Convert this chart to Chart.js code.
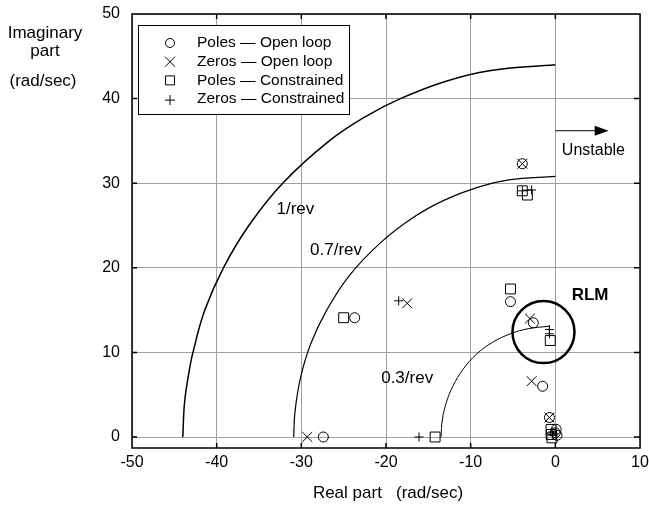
<!DOCTYPE html>
<html>
<head>
<meta charset="utf-8">
<script src="https://cdn.jsdelivr.net/npm/chart.js@4.4.1/dist/chart.umd.min.js"></script>
<style>
  html, body { margin: 0; padding: 0; background: #fff; }
</style>
</head>
<body>
<canvas id="grafico" width="649" height="509"></canvas>
<script>
// rangos de los ejes
const ejeX = [-50, 10];
const ejeY = [-1.3, 50];
const pasoTicks = 10;

// polos y ceros
const polosAbiertoX = [-27.4, -23.7, -5.3, -2.6, -1.5, -0.7, -3.9, 0.1, 0.2, 0.0];
const polosAbiertoY = [0, 14.1, 16.0, 13.5, 6.0, 2.3, 32.3, 0.9, 0.2, 0.5];
const cerosAbiertoX = [-29.3, -17.5, -3.9, -3.0, -2.8, -0.7];
const cerosAbiertoY = [0, 15.8, 32.3, 14.0, 6.6, 2.3];
const polosRestrX = [-14.2, -25.0, -5.3, -0.6, -3.9, -3.3, -0.5, -0.5, -0.4];
const polosRestrY = [0, 14.1, 17.5, 11.4, 29.1, 28.6, 0.9, 0.3, -0.1];
const cerosRestrX = [-16.1, -18.5, -2.8, -3.9, -0.7, -0.7, -0.3, -0.3];
const cerosRestrY = [0, 16.1, 29.2, 29.1, 12.7, 12.2, 0.6, 0.2];

// curvas de frecuencia constante
const curva1X = [-44, -43.8, -43.3, -42.8, -41.4, -39.2, -36.2, -32.2, -26.7, -22.2, -18.3, -13.1, -7.8, 0];
const curva1Y = [0, 4, 7.5, 10, 15, 20, 25, 30, 35, 38, 40, 42, 43.3, 44];
const curva07X = [-30.9, -30.75, -30.1, -28.9, -27.0, -24.4, -20.6, -16.7, -13.1, -9.2, -5.5, 0];
const curva07Y = [0, 3, 7, 11, 15, 19, 23, 26, 28, 29.5, 30.4, 30.8];
const curva03X = [-13.5, -13.35, -12.9, -12.1, -10.9, -9.3, -7.4, -5.3, -3.2, -0.7];
const curva03Y = [0, 2, 4, 6, 8, 9.8, 11.2, 12.2, 12.8, 13.1];

// circulo RLM y flecha
const rlmCentro = [-1.4, 12.4];
const flechaX = [0, 6.3];
const flechaY = [36.2, 36.2];

// textos sobre el grafico
const textos = ['1/rev', '0.7/rev', '0.3/rev', 'Unstable', 'RLM'];
const textosX = [-30.7, -25.9, -17.5, 4.5, 4.1];
const textosY = [26.9, 22.1, 6.9, 33.9, 16.8];

const leyenda = ['Poles \u2014 Open loop', 'Zeros \u2014 Open loop', 'Poles \u2014 Constrained', 'Zeros \u2014 Constrained'];
const simbolos = ['circle', 'crossRot', 'rect', 'cross'];

const fuente = "'Liberation Sans', Arial, sans-serif";

function puntos(xs, ys) {
    return xs.map((x, i) => ({ x: x, y: ys[i] }));
}

function curva(xs, ys, ancho) {
    return {
        type: 'line',
        data: puntos(xs, ys),
        borderColor: '#000',
        borderWidth: ancho,
        pointRadius: 0,
        tension: 0.4,
        fill: false,
        clip: false
    };
}

function marcas(xs, ys, estilo, radio) {
    return {
        type: 'scatter',
        data: puntos(xs, ys),
        pointStyle: estilo,
        pointRadius: radio,
        borderColor: '#000',
        backgroundColor: 'rgba(0,0,0,0)',
        borderWidth: 1,
        clip: false
    };
}

function sinPadding(s) {
    s.paddingLeft = 0; s.paddingRight = 0; s.paddingTop = 0; s.paddingBottom = 0;
}

// dibuja marco, ticks internos, leyenda, textos y titulos
const extras = {
    id: 'extras',
    afterDraw(chart) {
        const ctx = chart.ctx;
        const a = chart.chartArea;
        const sx = chart.scales.x, sy = chart.scales.y;
        ctx.save();

        // marco
        ctx.strokeStyle = '#000';
        ctx.lineWidth = 1.5;
        ctx.strokeRect(a.left, a.top, a.right - a.left, a.bottom - a.top);
        ctx.beginPath();
        for (let v = ejeX[0] + pasoTicks; v < ejeX[1]; v += pasoTicks) {
            const px = sx.getPixelForValue(v);
            ctx.moveTo(px, a.top); ctx.lineTo(px, a.top + 5);
            ctx.moveTo(px, a.bottom); ctx.lineTo(px, a.bottom - 5);
        }
        for (let v = 0; v < 50; v += pasoTicks) {
            const py = sy.getPixelForValue(v);
            ctx.moveTo(a.left, py); ctx.lineTo(a.left + 5, py);
            ctx.moveTo(a.right, py); ctx.lineTo(a.right - 6, py);
        }
        ctx.stroke();

        // flecha
        const fx0 = sx.getPixelForValue(flechaX[0]), fx1 = sx.getPixelForValue(flechaX[1]);
        const fy = sy.getPixelForValue(flechaY[0]);
        ctx.lineWidth = 1;
        ctx.beginPath();
        ctx.moveTo(fx0, fy); ctx.lineTo(fx1 - 10, fy);
        ctx.stroke();
        ctx.fillStyle = '#000';
        ctx.beginPath();
        ctx.moveTo(fx1, fy); ctx.lineTo(fx1 - 14, fy - 5); ctx.lineTo(fx1 - 14, fy + 5);
        ctx.closePath(); ctx.fill();

        // textos
        ctx.textAlign = 'center';
        ctx.textBaseline = 'middle';
        textos.forEach((t, i) => {
            ctx.font = (t === 'RLM' ? 'bold 17px ' : (t === 'Unstable' ? '16px ' : '17px ')) + fuente;
            ctx.fillText(t, sx.getPixelForValue(textosX[i]), sy.getPixelForValue(textosY[i]));
        });

        // leyenda
        ctx.fillStyle = '#fff';
        ctx.fillRect(138, 25, 211, 89);
        ctx.strokeStyle = '#000';
        ctx.lineWidth = 1;
        ctx.strokeRect(138.5, 25.5, 211, 89);
        ctx.fillStyle = '#000';
        ctx.font = '15.5px ' + fuente;
        ctx.textAlign = 'left';
        leyenda.forEach((t, i) => {
            const ly = 43 + i * 18.7;
            const lx = 170;
            ctx.beginPath();
            if (simbolos[i] === 'circle') {
                ctx.arc(lx, ly, 4.5, 0, Math.PI * 2);
            } else if (simbolos[i] === 'crossRot') {
                ctx.moveTo(lx - 5, ly - 5); ctx.lineTo(lx + 5, ly + 5);
                ctx.moveTo(lx + 5, ly - 5); ctx.lineTo(lx - 5, ly + 5);
            } else if (simbolos[i] === 'rect') {
                ctx.rect(lx - 4.5, ly - 4.5, 9, 9);
            } else {
                ctx.moveTo(lx - 5, ly + 1); ctx.lineTo(lx + 5, ly + 1);
                ctx.moveTo(lx, ly - 4); ctx.lineTo(lx, ly + 6);
            }
            ctx.stroke();
            ctx.fillText(t, 197, ly);
        });

        // titulos de ejes
        ctx.font = '17px ' + fuente;
        ctx.textAlign = 'center';
        ctx.fillText('Imaginary', 45, 33);
        ctx.fillText('part', 45, 51);
        ctx.fillText('(rad/sec)', 43, 81);
        ctx.fillText('Real part   (rad/sec)', 388, 493);
        ctx.restore();
    }
};

const ctx = document.getElementById('grafico').getContext('2d');
new Chart(ctx, {
    type: 'scatter',
    data: {
        datasets: [
            curva(curva1X, curva1Y, 1.5),
            curva(curva07X, curva07Y, 1.2),
            curva(curva03X, curva03Y, 1),
            marcas(polosAbiertoX, polosAbiertoY, 'circle', 5),
            marcas(cerosAbiertoX, cerosAbiertoY, 'crossRot', 7),
            marcas(polosRestrX, polosRestrY, 'rect', 7),
            marcas(cerosRestrX, cerosRestrY, 'cross', 4.5),
            {
                type: 'scatter',
                data: [{ x: rlmCentro[0], y: rlmCentro[1] }],
                pointStyle: 'circle',
                pointRadius: 31,
                borderColor: '#000',
                backgroundColor: 'rgba(0,0,0,0)',
                borderWidth: 2.5,
                clip: false
            }
        ]
    },
    options: {
        responsive: false,
        animation: false,
        layout: { autoPadding: false, padding: { top: 14, right: 9, left: 0, bottom: 0 } },
        plugins: { legend: { display: false }, tooltip: { enabled: false } },
        scales: {
            x: {
                type: 'linear',
                min: ejeX[0], max: ejeX[1],
                afterFit: s => { s.height = 61; sinPadding(s); },
                ticks: { stepSize: pasoTicks, color: '#000', padding: 5, font: { family: fuente, size: 16 } },
                grid: { color: '#a0a0a0', lineWidth: 1, drawTicks: false },
                border: { display: false }
            },
            y: {
                type: 'linear',
                min: ejeY[0], max: ejeY[1],
                afterFit: s => { s.width = 132; sinPadding(s); },
                ticks: { stepSize: pasoTicks, includeBounds: false, color: '#000', padding: 12, font: { family: fuente, size: 16 } },
                grid: { color: '#a0a0a0', lineWidth: 1, drawTicks: false },
                border: { display: false }
            }
        }
    },
    plugins: [extras]
});
</script>
</body>
</html>
